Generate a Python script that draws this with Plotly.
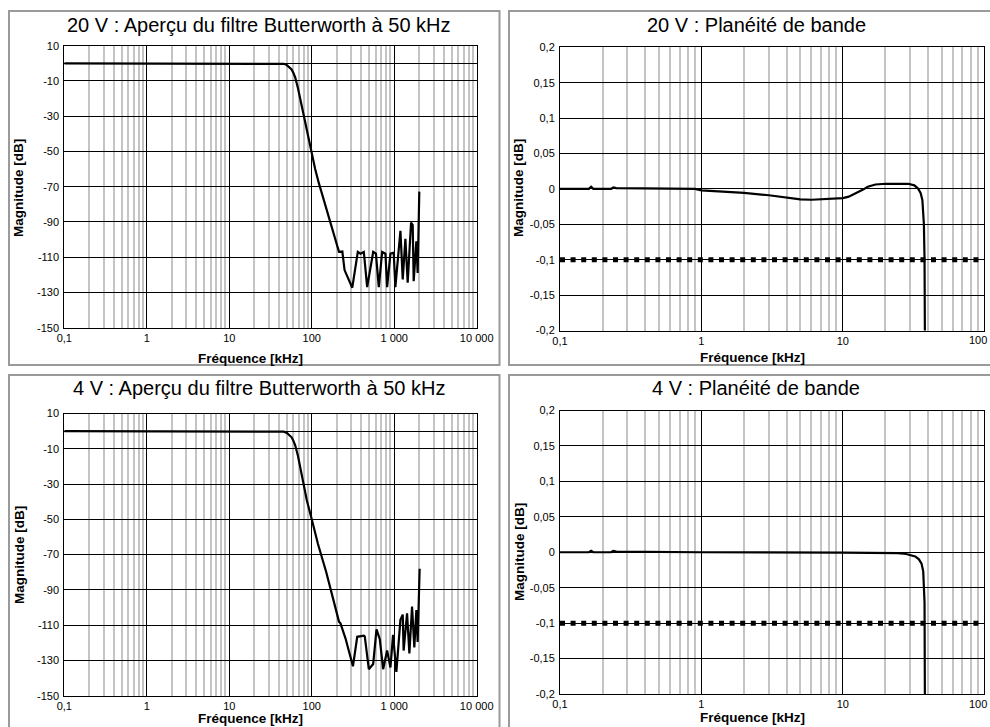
import plotly.graph_objects as go

W, H = 990, 727

# ---------------- data ----------------
# 20 V overview (frequency kHz, magnitude dB)
f_ov20 = [0.1, 1, 10, 30, 42, 46, 50, 54, 57, 60, 63, 68, 74, 80, 87, 100, 110, 122, 150, 180, 214,
          235, 250, 310, 362, 390, 428, 470, 556, 600, 650, 714, 783, 820, 900, 986, 1033,
          1189, 1268, 1366, 1456, 1600, 1675, 1722, 1855, 1924, 2014]
db_ov20 = [0, 0, 0, 0, 0, -0.3, -1, -2.2, -3.5, -5.5, -8, -14, -22, -30, -39, -51, -60, -68, -82, -95, -107,
           -106.8, -117.3, -127.3, -107, -108, -107, -127, -107, -108, -127, -107, -108, -127, -108, -107.5, -127,
           -95, -122.6, -99.6, -124.5, -90.3, -91.8, -123.6, -101, -119, -72.8]

# 4 V overview
f_ov4 = [0.1, 1, 10, 30, 42, 46, 50, 54, 57, 60, 63, 68, 74, 80, 87, 100, 110, 119, 150, 180, 214,
         223, 257, 316, 356, 428, 440, 492, 556, 610, 669, 734, 820, 900, 968, 1062,
         1189, 1268, 1300, 1431, 1527, 1645, 1753, 1855, 1924, 2033]
db_ov4 = [0, 0, 0, 0, 0, -0.3, -1, -2.2, -3.5, -5.5, -8, -14, -22, -30, -39, -50, -58, -64, -80, -94, -108,
          -109, -117.6, -133.3, -116.6, -116, -116.5, -135, -132, -112.4, -118, -135, -124.4, -134, -115.5, -136.5,
          -107, -104, -124.4, -103.3, -126, -99.5, -122.6, -101.4, -119.5, -78]

# 20 V band flatness
f_fl20 = [0.1, 0.16, 0.166, 0.172, 0.23, 0.238, 0.25, 0.5, 0.9, 1.0, 2, 3, 4, 5, 6, 8, 10, 11, 12, 13.9,
          15, 17, 20, 25, 29, 32, 34, 35.5, 36.5, 37.4, 37.8, 38, 38.1]
db_fl20 = [0, 0, 0.003, 0, 0, 0.002, 0.001, 0.0005, 0, -0.002, -0.0057, -0.009, -0.0126, -0.0148, -0.0153,
           -0.0144, -0.013, -0.011, -0.0075, -0.001, 0.003, 0.0062, 0.0073, 0.0076, 0.0072, 0.005, 0.0005,
           -0.006, -0.016, -0.05, -0.1, -0.2, -0.25]

# 4 V band flatness
f_fl4 = [0.1, 0.16, 0.166, 0.172, 0.23, 0.238, 0.25, 1, 10, 20, 24.4, 28, 30.2, 32.5, 34.5, 36, 37, 37.8,
         38, 38.1]
db_fl4 = [0, 0, 0.002, 0, 0, 0.002, 0.001, 0, -0.0004, -0.001, -0.0013, -0.0025, -0.0038, -0.006, -0.01,
          -0.016, -0.027, -0.071, -0.2, -0.25]

# -0.1 dB limit line
f_lim = [0.1, 100]
db_lim = [-0.1, -0.1]

titles = ["20 V : Aperçu du filtre Butterworth à 50 kHz", "20 V : Planéité de bande",
          "4 V : Aperçu du filtre Butterworth à 50 kHz", "4 V : Planéité de bande"]
x_title = "Fréquence [kHz]"
y_title = "Magnitude [dB]"

ov_xticks = [0.1, 1, 10, 100, 1000, 10000]
ov_xtext = ["0,1", "1", "10", "100", "1 000", "10 000"]
fl_xticks = [0.1, 1, 10, 100]
fl_xtext = ["0,1", "1", "10", "100"]
ov_yticks = [10, 0, -10, -30, -50, -70, -90, -110, -130, -150]
ov_ytext = ["10", "", "-10", "-30", "-50", "-70", "-90", "-110", "-130", "-150"]
fl_yticks = [0.2, 0.15, 0.1, 0.05, 0, -0.05, -0.1, -0.15, -0.2]
fl_ytext = ["0,2", "0,15", "0,1", "0,05", "0", "-0,05", "-0,1", "-0,15", "-0,2"]

# ---------------- layout helpers ----------------
FONT = "Liberation Sans, Arial, sans-serif"

def px_x(p):
    return p / W

def px_y(p):
    return 1 - p / H

def minor_vals(lo_exp, hi_exp):
    vals = []
    for e in range(lo_exp, hi_exp):
        for m in range(2, 10):
            vals.append(m * 10 ** e)
    return vals

# plot areas in pixels: (x0, x1, ytop, ybottom)
areas = [
    (64.3, 476.7, 45.7, 327.7),
    (560, 984.3, 47.3, 330.5),
    (64.3, 476.7, 413.5, 695.7),
    (560, 984.3, 410.5, 694),
]

fig = go.Figure()

series = [(f_ov20, db_ov20), (f_fl20, db_fl20), (f_ov4, db_ov4), (f_fl4, db_fl4)]
for i, (fx, fy) in enumerate(series):
    k = "" if i == 0 else str(i + 1)
    fig.add_trace(go.Scatter(x=fx, y=fy, mode="lines", xaxis="x" + k, yaxis="y" + k,
                             line=dict(color="black", width=2.2), showlegend=False,
                             hoverinfo="skip"))
    if i in (1, 3):
        fig.add_trace(go.Scatter(x=f_lim, y=db_lim, mode="lines", xaxis="x" + k, yaxis="y" + k,
                                 line=dict(color="black", width=5, dash="5px,5.6px"),
                                 showlegend=False, hoverinfo="skip"))

# the last flatness tick label is drawn as an annotation, pulled inside the page edge
fl_xtext_axis = fl_xtext[:-1] + [""]

layout = {}
for i, (x0, x1, yt, yb) in enumerate(areas):
    k = "" if i == 0 else str(i + 1)
    overview = i in (0, 2)
    xa = dict(type="log", domain=[px_x(x0), px_x(x1)],
              range=[-1, 4] if overview else [-1, 2],
              anchor="y" + k, automargin=False, ticklabeloverflow="allow",
              tickmode="array",
              tickvals=ov_xticks if overview else fl_xticks,
              ticktext=ov_xtext if overview else fl_xtext_axis,
              showgrid=True, gridcolor="black", gridwidth=1,
              showline=True, linecolor="black", linewidth=1, mirror=True,
              ticks="", tickfont=dict(family=FONT, size=11, color="black"),
              minor=dict(tickmode="array",
                         tickvals=minor_vals(-1, 4) if overview else minor_vals(-1, 2),
                         showgrid=True, gridcolor="#c4c4c4", gridwidth=1.6, ticks=""),
              zeroline=False, fixedrange=True)
    ya = dict(domain=[px_y(yb), px_y(yt)],
              range=[-150, 10] if overview else [-0.2, 0.2],
              anchor="x" + k, automargin=False, ticklabeloverflow="allow",
              tickmode="array",
              tickvals=ov_yticks if overview else fl_yticks,
              ticktext=ov_ytext if overview else fl_ytext,
              showgrid=True, gridcolor="black", gridwidth=1,
              showline=True, linecolor="black", linewidth=1, mirror=True,
              ticks="", ticklabelstandoff=2,
              tickfont=dict(family=FONT, size=11, color="black"),
              zeroline=False, fixedrange=True)
    layout["xaxis" + k] = xa
    layout["yaxis" + k] = ya

fig.update_layout(template="none")
fig.update_layout(**layout)

# panel frames
frames = [(9, 499.5, 11, 365), (509, 1005, 11, 365), (9, 499.5, 375, 740), (509, 1005, 375, 740)]
shapes = []
for (x0, x1, y0, y1) in frames:
    shapes.append(dict(type="rect", xref="paper", yref="paper",
                       x0=px_x(x0), x1=px_x(x1), y0=px_y(y1), y1=px_y(y0),
                       line=dict(color="#9a9a9a", width=2), fillcolor="rgba(0,0,0,0)",
                       layer="below"))

annotations = []
title_pos = [(259, 25.5), (756, 25.5), (259, 387.5), (756, 387.5)]
for t, (cx, cy) in zip(titles, title_pos):
    annotations.append(dict(text=t, x=px_x(cx), y=px_y(cy), xref="paper", yref="paper",
                            xanchor="center", yanchor="middle", showarrow=False,
                            font=dict(family=FONT, size=20, color="black")))
xt_pos = [(250, 358), (752, 357), (250, 718), (752, 717)]
for (cx, cy) in xt_pos:
    annotations.append(dict(text="<b>" + x_title + "</b>", x=px_x(cx), y=px_y(cy),
                            xref="paper", yref="paper", xanchor="center", yanchor="middle",
                            showarrow=False, font=dict(family=FONT, size=13.5, color="black")))
yt_pos = [(19, 188), (519, 188), (19, 555), (519, 552)]
for (cx, cy) in yt_pos:
    annotations.append(dict(text="<b>" + y_title + "</b>", x=px_x(cx), y=px_y(cy),
                            xref="paper", yref="paper", xanchor="center", yanchor="middle",
                            textangle=-90, showarrow=False,
                            font=dict(family=FONT, size=13.5, color="black")))
# last x tick label of the flatness plots ("100"), kept inside the page
for cy in (340, 703.5):
    annotations.append(dict(text=fl_xtext[-1], x=px_x(988.5), y=px_y(cy), xref="paper", yref="paper",
                            xanchor="right", yanchor="middle", showarrow=False,
                            font=dict(family=FONT, size=11, color="black")))

fig.update_layout(width=W, height=H, margin=dict(l=0, r=0, t=0, b=0, pad=0, autoexpand=False),
                  paper_bgcolor="white", plot_bgcolor="white",
                  shapes=shapes, annotations=annotations, showlegend=False)

fig.write_html("out.html", config={"displayModeBar": False},
               post_script="document.body.style.margin='0';document.body.style.overflow='hidden';")
